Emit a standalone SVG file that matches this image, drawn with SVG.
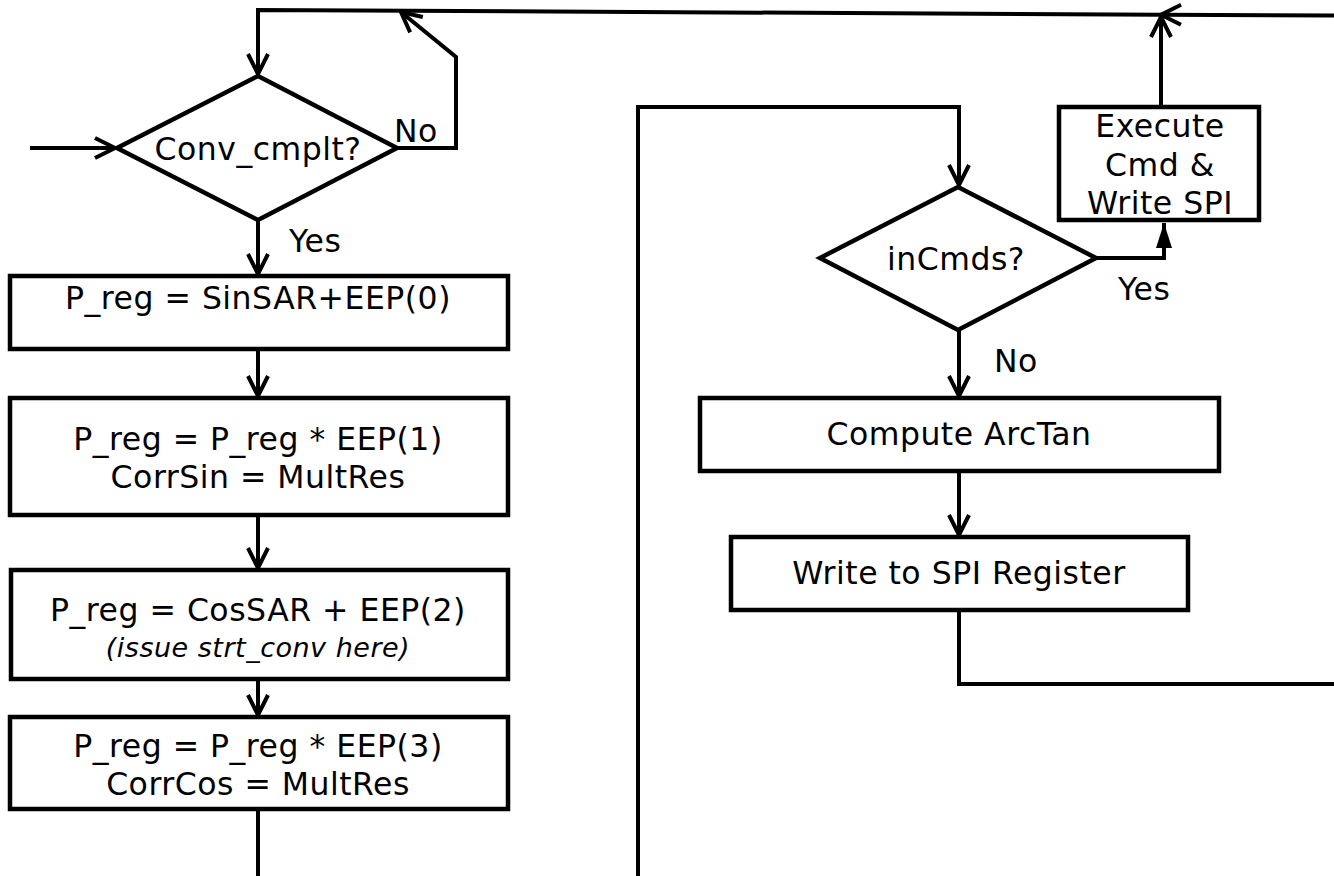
<svg xmlns="http://www.w3.org/2000/svg" width="1334" height="876" viewBox="0 0 1334 876">
  <style>
    .shape { fill: #ffffff; stroke: #000000; stroke-width: 4.5; stroke-linejoin: miter; }
    .wire { fill: none; stroke: #000000; stroke-width: 4; stroke-linejoin: miter; }
    .label { font-family: "DejaVu Sans", Verdana, sans-serif; font-size: 31.5px; letter-spacing: 0.5px; fill: #000000; }
    .mid { text-anchor: middle; }
    .note { font-size: 27px; font-style: italic; }
  </style>
  <defs>
    <marker id="open" markerUnits="userSpaceOnUse" markerWidth="28" markerHeight="28" viewBox="-24 -14 28 28" refX="0" refY="0" orient="auto" overflow="visible">
      <path d="M-20,-10 L0,0 L-20,10" fill="none" stroke="#000" stroke-width="4"/>
    </marker>
    <marker id="solid" markerUnits="userSpaceOnUse" markerWidth="30" markerHeight="22" viewBox="-28 -11 30 22" refX="0" refY="0" orient="auto" overflow="visible">
      <path d="M-25,-8 L0,0 L-25,8 Z" fill="#000" stroke="none"/>
    </marker>
  </defs>

  <!-- connectors -->
  <g id="connectors">
    <path class="wire" d="M30,148 H115" marker-end="url(#open)"/>
    <path class="wire" d="M397,148 H456 V57 L401,12" marker-end="url(#open)"/>
    <path class="wire" d="M1334,15.5 L1161,14.7" marker-end="url(#open)"/>
    <path class="wire" d="M1161,14.7 L258,10 V74" marker-end="url(#open)"/>
    <path class="wire" d="M1161,107 V17" marker-end="url(#open)"/>
    <path class="wire" d="M1096,258 H1164 V246"/>
    <path class="wire" d="M1164,248 V223" marker-end="url(#solid)"/>
    <path class="wire" d="M258,220 V274" marker-end="url(#open)"/>
    <path class="wire" d="M258,349 V396" marker-end="url(#open)"/>
    <path class="wire" d="M258,515 V568" marker-end="url(#open)"/>
    <path class="wire" d="M258,679 V715" marker-end="url(#open)"/>
    <path class="wire" d="M258,809 V876"/>
    <path class="wire" d="M638,876 V107 H959 V185" marker-end="url(#open)"/>
    <path class="wire" d="M959,330 V396" marker-end="url(#open)"/>
    <path class="wire" d="M959,471 V535" marker-end="url(#open)"/>
    <path class="wire" d="M959,610 V684 H1334"/>
  </g>

  <!-- branch labels -->
  <g id="branch-labels">
    <text class="label" x="394" y="142">No</text>
    <text class="label" x="289" y="252">Yes</text>
    <text class="label" x="1118" y="300">Yes</text>
    <text class="label" x="994" y="372">No</text>
  </g>

  <g id="conv-cmplt">
    <polygon class="shape" points="117,148 258,76 397,148 258,220"/>
    <text class="label mid" x="258" y="160">Conv_cmplt?</text>
  </g>

  <g id="sin-add">
    <rect class="shape" x="10" y="276" width="498" height="73"/>
    <text class="label mid" x="258" y="309">P_reg = SinSAR+EEP(0)</text>
  </g>

  <g id="sin-mult">
    <rect class="shape" x="10" y="398" width="498" height="117"/>
    <text class="label mid" x="258" y="450">P_reg = P_reg * EEP(1)</text>
    <text class="label mid" x="258" y="488">CorrSin = MultRes</text>
  </g>

  <g id="cos-add">
    <rect class="shape" x="11" y="570" width="497" height="109"/>
    <text class="label mid" x="258" y="621">P_reg = CosSAR + EEP(2)</text>
    <text class="label mid note" x="258" y="657">(issue strt_conv here)</text>
  </g>

  <g id="cos-mult">
    <rect class="shape" x="10" y="717" width="498" height="92"/>
    <text class="label mid" x="258" y="757">P_reg = P_reg * EEP(3)</text>
    <text class="label mid" x="258" y="795">CorrCos = MultRes</text>
  </g>

  <g id="in-cmds">
    <polygon class="shape" points="820,258 958,187 1096,258 958,330"/>
    <text class="label mid" x="956" y="270">inCmds?</text>
  </g>

  <g id="execute-cmd">
    <rect class="shape" x="1059" y="107" width="200" height="113"/>
    <text class="label mid" x="1160" y="137">Execute</text>
    <text class="label mid" x="1160" y="176">Cmd &amp;</text>
    <text class="label mid" x="1160" y="214">Write SPI</text>
  </g>

  <g id="compute-arctan">
    <rect class="shape" x="700" y="398" width="519" height="73"/>
    <text class="label mid" x="959" y="445">Compute ArcTan</text>
  </g>

  <g id="write-spi">
    <rect class="shape" x="731" y="537" width="457" height="73"/>
    <text class="label mid" x="959" y="584">Write to SPI Register</text>
  </g>
</svg>
